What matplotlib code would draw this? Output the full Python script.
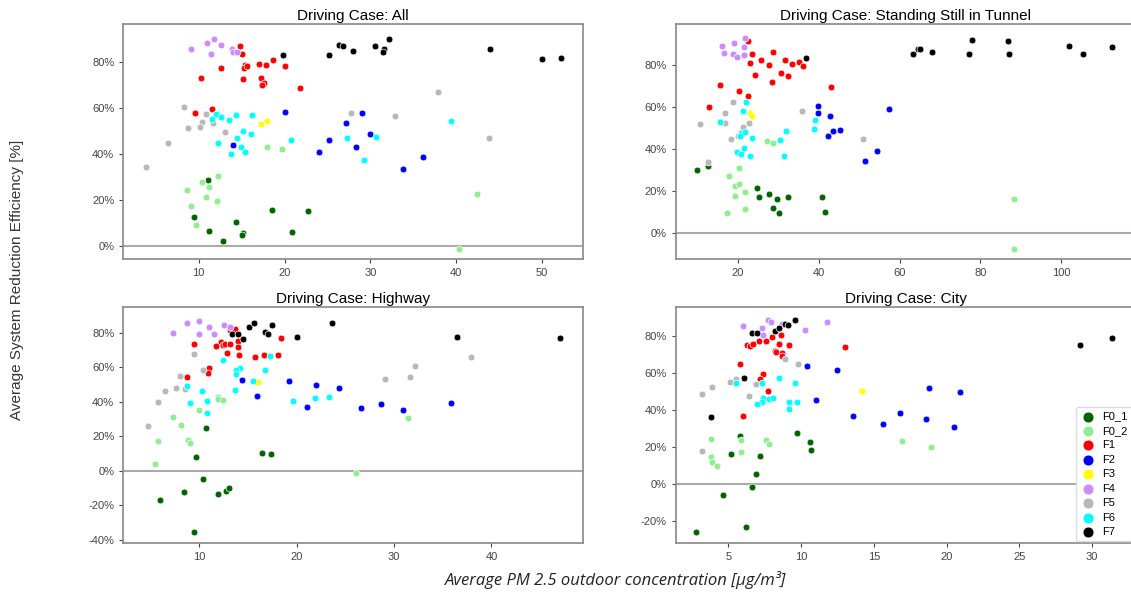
import matplotlib
matplotlib.use("Agg")
import matplotlib.pyplot as plt
from matplotlib.ticker import PercentFormatter, MultipleLocator

groups = ["F0_1", "F0_2", "F1", "F2", "F3", "F4", "F5", "F6", "F7"]
colors = ["darkgreen", "lightgreen", "red", "blue", "yellow", "#cc8cff", "#b8b8b8", "cyan", "black"]

# (x, y) points, one dict per driving case
all_pts = {
    "F0_1": [(11.1, 28.6), (9.4, 12.6), (11.2, 6.5), (14.3, 10.4), (12.8, 1.9), (15.1, 5.7),
             (15.0, 4.6), (18.5, 15.5), (22.7, 15.2), (20.9, 5.9)],
    "F0_2": [(18.0, 43.0), (19.7, 42.2), (12.3, 30.3), (10.4, 27.7), (11.2, 25.5), (8.6, 24.2),
             (10.9, 21.3), (12.1, 19.4), (9.1, 17.2), (9.7, 9.1), (42.4, 22.3), (40.3, -1.4)],
    "F1": [(14.8, 87.0), (15.0, 83.3), (12.6, 77.5), (10.3, 72.8), (15.4, 78.8), (15.3, 77.5),
           (15.6, 78.1), (15.1, 72.5), (17.0, 79.1), (17.8, 78.6), (18.6, 80.7), (20.0, 78.0),
           (17.3, 73.2), (17.6, 70.6), (17.4, 70.0), (21.8, 68.6), (9.6, 57.8), (11.6, 59.4)],
    "F2": [(14.0, 43.9), (20.1, 58.4), (24.0, 40.7), (25.2, 45.9), (27.2, 53.5), (29.0, 57.8),
           (28.3, 43.0), (30.0, 48.4), (36.2, 38.6), (33.8, 33.3)],
    "F3": [(17.3, 52.9), (17.9, 54.1)],
    "F4": [(9.1, 85.5), (11.0, 88.1), (11.8, 89.9), (12.6, 87.2), (11.4, 83.3), (13.9, 85.4),
           (14.0, 84.1), (14.5, 84.1)],
    "F5": [(8.3, 60.3), (10.9, 57.5), (10.4, 53.9), (11.7, 53.3), (8.7, 51.4), (10.1, 51.7),
           (13.1, 49.3), (6.4, 44.8), (3.9, 34.3), (27.8, 57.8), (32.9, 56.4), (37.9, 66.7),
           (43.8, 46.8)],
    "F6": [(12.0, 57.2), (11.5, 55.2), (12.6, 56.1), (13.5, 54.9), (14.3, 57.1), (16.2, 57.1),
           (15.1, 49.9), (16.1, 48.4), (14.5, 46.8), (12.2, 44.6), (14.9, 42.8), (15.4, 40.7),
           (13.8, 39.7), (20.7, 45.9), (27.3, 46.7), (30.7, 47.2), (29.3, 37.1), (39.4, 54.1)],
    "F7": [(19.8, 82.8), (25.2, 82.8), (26.3, 87.5), (26.8, 87.0), (28.0, 84.6), (30.5, 87.0),
           (31.6, 85.7), (31.5, 84.2), (32.2, 90.1), (44.0, 85.5), (50.0, 81.2), (52.2, 81.5)],
}

tunnel_pts = {
    "F0_1": [(9.9, 30.1), (12.5, 32.0), (24.8, 21.7), (25.3, 17.0), (27.7, 18.7), (29.8, 16.3),
             (32.5, 17.0), (28.8, 12.2), (30.1, 9.4), (40.8, 17.3), (41.5, 10.1)],
    "F0_2": [(27.3, 43.9), (28.7, 42.9), (20.2, 31.1), (17.9, 27.3), (19.3, 22.5), (20.2, 23.3),
             (21.8, 19.8), (19.3, 17.7), (21.8, 11.4), (17.4, 9.4), (88.2, 16.5), (88.2, -7.4)],
    "F1": [(22.4, 91.4), (23.6, 85.3), (23.0, 81.1), (25.6, 82.4), (27.7, 80.0), (28.8, 86.2),
           (31.7, 82.4), (33.3, 80.7), (35.2, 81.6), (36.1, 79.4), (30.7, 76.2), (32.5, 75.0),
           (24.3, 75.3), (28.5, 72.0), (15.7, 70.4), (20.2, 67.5), (22.4, 65.3), (12.8, 59.9),
           (43.1, 69.4)],
    "F2": [(39.9, 60.7), (39.9, 57.4), (42.7, 55.8), (43.5, 48.8), (45.3, 49.3), (42.2, 46.0),
           (57.4, 59.0), (54.3, 39.1), (51.5, 34.4)],
    "F3": [(22.9, 57.4), (23.4, 55.9)],
    "F4": [(21.8, 92.7), (16.1, 89.2), (19.1, 90.5), (21.4, 88.7), (16.5, 85.9), (18.7, 85.1),
           (19.9, 84.0), (21.4, 84.9)],
    "F5": [(18.7, 62.4), (16.9, 57.1), (16.9, 52.5), (10.7, 52.0), (21.3, 50.7), (22.7, 52.3),
           (18.3, 45.0), (20.1, 46.4), (35.9, 58.3), (51.0, 44.7), (12.5, 33.9)],
    "F6": [(22.1, 62.4), (21.2, 58.0), (15.6, 53.1), (20.7, 47.5), (21.8, 47.9), (20.5, 46.1),
           (23.5, 45.3), (21.5, 40.3), (19.8, 38.8), (20.7, 37.9), (23.0, 36.6), (32.0, 48.8),
           (30.3, 44.1), (31.4, 36.6), (39.0, 53.7), (38.8, 49.6)],
    "F7": [(36.9, 83.4), (63.2, 85.3), (64.6, 87.8), (65.1, 87.8), (68.1, 86.2), (78.0, 91.8),
           (77.1, 85.3), (86.7, 91.4), (87.1, 85.3), (101.9, 89.2), (105.4, 85.4), (112.6, 88.6)],
}

highway_pts = {
    "F0_1": [(10.7, 24.6), (9.7, 7.9), (16.4, 10.3), (17.4, 9.5), (10.4, -5.0), (8.4, -12.2),
             (11.9, -13.4), (12.7, -11.8), (13.1, -9.9), (6.0, -17.1), (9.5, -35.5)],
    "F0_2": [(11.9, 43.0), (11.9, 41.7), (12.4, 40.9), (10.0, 35.5), (7.3, 31.4), (8.1, 26.6),
             (8.8, 17.8), (9.1, 15.9), (5.8, 17.4), (5.5, 4.1), (31.4, 30.6), (26.1, -1.4)],
    "F1": [(13.2, 81.8), (13.7, 82.6), (9.5, 73.4), (12.2, 75.0), (11.7, 72.3), (12.4, 72.9),
           (12.6, 73.4), (13.2, 73.4), (14.0, 75.4), (14.0, 71.9), (12.8, 68.6), (14.1, 67.4),
           (15.7, 65.9), (16.6, 67.1), (18.1, 67.4), (18.4, 77.3), (11.0, 59.5), (10.9, 56.8),
           (8.7, 54.3)],
    "F2": [(14.4, 52.7), (15.9, 43.2), (19.2, 52.3), (22.0, 50.0), (24.3, 48.1), (21.1, 37.0),
           (26.6, 36.4), (28.7, 38.8), (30.9, 35.3), (35.8, 39.1)],
    "F3": [(16.0, 51.6)],
    "F4": [(7.3, 79.8), (8.7, 86.0), (10.0, 87.2), (10.0, 79.7), (11.0, 83.3), (11.5, 79.3),
           (12.5, 84.5), (13.2, 83.3)],
    "F5": [(9.5, 67.8), (10.4, 58.7), (8.0, 55.0), (7.6, 48.3), (8.5, 47.5), (6.5, 46.3),
           (5.8, 40.1), (4.7, 25.8), (29.1, 53.1), (31.6, 54.7), (32.2, 60.7), (37.9, 66.3)],
    "F6": [(12.4, 64.3), (16.7, 58.3), (14.2, 59.9), (13.8, 58.3), (13.8, 56.0), (17.3, 66.7),
           (8.7, 49.2), (10.3, 46.5), (15.5, 51.9), (13.7, 46.9), (9.1, 39.1), (10.8, 40.5),
           (10.8, 33.5), (19.6, 40.5), (21.9, 42.1), (23.3, 43.0)],
    "F7": [(13.4, 79.7), (14.0, 79.3), (14.5, 76.6), (15.1, 83.7), (15.6, 85.7), (16.7, 80.6),
           (17.1, 79.5), (17.5, 84.5), (20.0, 77.7), (23.6, 86.0), (36.5, 77.7), (47.0, 77.1)],
}

city_pts = {
    "F0_1": [(5.8, 25.7), (5.2, 16.4), (7.2, 15.3), (9.7, 27.3), (10.6, 22.7), (10.7, 18.5),
             (6.9, 5.4), (6.6, -1.6), (4.6, -5.9), (6.2, -23.4), (2.8, -25.9)],
    "F0_2": [(3.8, 24.5), (5.9, 23.7), (5.9, 17.1), (3.8, 14.7), (3.9, 11.9), (4.2, 9.9),
             (7.6, 23.7), (7.8, 21.6), (16.9, 23.0), (18.9, 20.1)],
    "F1": [(8.0, 79.3), (8.6, 80.2), (7.1, 77.2), (7.6, 77.2), (6.3, 75.0), (6.5, 74.6),
           (6.7, 75.5), (8.5, 75.7), (9.2, 75.0), (8.2, 71.8), (8.3, 71.0), (8.7, 70.5),
           (8.7, 69.2), (13.0, 74.1), (5.8, 64.6), (7.4, 59.5), (7.2, 56.5), (7.7, 50.0),
           (6.0, 36.7)],
    "F2": [(10.4, 63.8), (12.5, 61.7), (11.0, 45.1), (13.6, 36.9), (15.6, 32.2), (16.8, 38.1),
           (18.6, 35.1), (18.8, 52.0), (20.9, 49.5), (20.5, 30.8)],
    "F3": [(14.1, 50.0), (14.2, 50.0)],
    "F4": [(6.0, 85.3), (7.3, 84.2), (7.4, 80.2), (7.7, 88.3), (7.9, 87.2), (8.7, 86.3),
           (10.3, 83.1), (11.8, 87.1)],
    "F5": [(8.9, 67.3), (9.8, 64.7), (5.1, 55.2), (5.5, 56.8), (6.9, 54.0), (3.9, 52.2),
           (3.2, 48.4), (6.4, 47.7), (3.2, 17.8)],
    "F6": [(5.5, 54.5), (7.3, 54.3), (8.5, 57.2), (9.6, 54.7), (7.4, 46.6), (7.8, 45.9),
           (8.1, 46.6), (7.3, 44.2), (7.0, 43.0), (9.2, 44.1), (9.7, 44.1), (9.2, 40.6)],
    "F7": [(6.6, 81.5), (7.0, 81.5), (8.2, 82.4), (8.5, 84.2), (8.9, 86.3), (9.1, 85.8),
           (9.6, 88.3), (6.1, 57.2), (3.8, 36.0), (29.2, 75.0), (31.4, 78.6)],
}

panels = [
    ("All", all_pts, (1.2, 54.8), (-5.9, 96.3)),
    ("Standing Still in Tunnel", tunnel_pts, (4.7, 118.4), (-12.4, 99.3)),
    ("Highway", highway_pts, (2.2, 49.4), (-41.8, 95.3)),
    ("City", city_pts, (1.4, 33.0), (-31.7, 95.6)),
]

plt.rcParams["font.family"] = ["Liberation Sans", "DejaVu Sans"]
plt.rcParams["axes.unicode_minus"] = False

fig = plt.figure(figsize=(11.31, 5.96), dpi=100)
positions = [
    [0.109, 0.565, 0.4065, 0.394],
    [0.5977, 0.565, 0.4065, 0.394],
    [0.109, 0.0894, 0.4065, 0.396],
    [0.5977, 0.0894, 0.4065, 0.396],
]

for (name, pts, xlim, ylim), pos in zip(panels, positions):
    ax = fig.add_axes(pos)
    ax.axhline(0, color="#aaaaaa", lw=1.5, zorder=1)
    for g, c in zip(groups, colors):
        xs = [p[0] for p in pts[g]]
        ys = [p[1] for p in pts[g]]
        ax.scatter(xs, ys, s=24, color=c, edgecolor="white", linewidth=0.5, label=g, zorder=2)
    ax.set_xlim(*xlim)
    ax.set_ylim(*ylim)
    ax.yaxis.set_major_locator(MultipleLocator(20))
    ax.yaxis.set_major_formatter(PercentFormatter(decimals=0))
    ax.set_title("Driving Case: " + name, fontsize=11, pad=3)
    ax.tick_params(labelsize=8, colors="#444444", length=3, width=0.8)
    for sp in ax.spines.values():
        sp.set_color("#888888")
        sp.set_linewidth(1.2)
    if name == "City":
        ax.legend(loc="upper left", bbox_to_anchor=(0.869, 0.575), fontsize=8,
                  labelspacing=0.4, markerscale=1.6, handlelength=1.4, handletextpad=0.6,
                  borderpad=0.4, borderaxespad=0, framealpha=1, edgecolor="#dddddd")

fig.text(0.015, 0.53, "Average System Reduction Efficiency [%]", rotation=90,
         ha="center", va="center", fontsize=11, color="#333333")
fig.text(0.544, 0.027, "Average PM 2.5 outdoor concentration [μg/m³]",
         ha="center", va="center", fontsize=12, style="italic",
         family=["Open Sans", "DejaVu Sans"], color="#222222")

fig.savefig("out.png", dpi=100)
